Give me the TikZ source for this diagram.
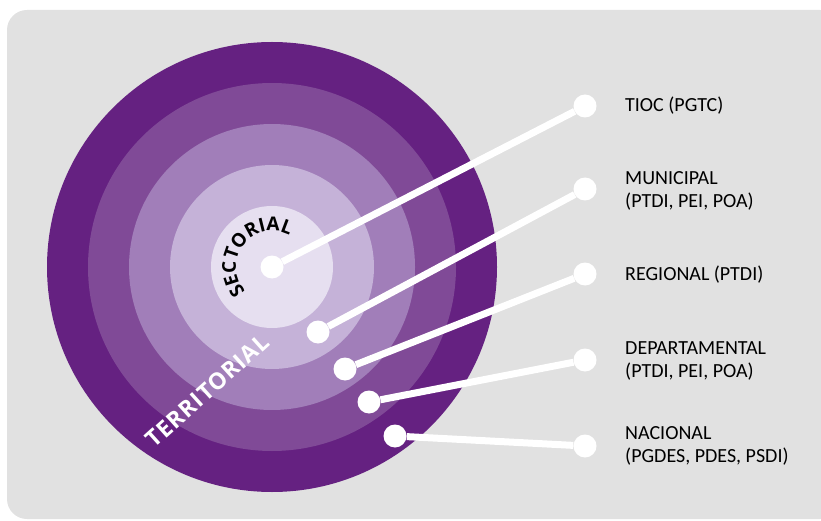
\documentclass[tikz,border=0pt]{standalone}
\usepackage{fontspec}
\setmainfont{Carlito}
\newfontfamily\ringfont{Open Sans}
\usetikzlibrary{decorations.text}

\definecolor{bggrey}{RGB}{225,225,225}
\definecolor{ringA}{RGB}{101,33,129}
\definecolor{ringB}{RGB}{128,74,151}
\definecolor{ringC}{RGB}{161,126,185}
\definecolor{ringD}{RGB}{197,178,216}
\definecolor{ringE}{RGB}{230,223,240}

\begin{document}
\begin{tikzpicture}[x=1pt, y=1pt]
		\tikzstyle{dot}=[circle, fill=white, minimum size=23pt, inner sep=0pt]
		\tikzstyle{link}=[line width=7pt, white]
		\tikzstyle{level}=[anchor=west, align=left, inner sep=0pt, font=\fontsize{20}{23}\selectfont]
		
		\useasboundingbox (0,0) rectangle (821,520);
		\clip (0,0) rectangle (821,520);
		
		% Fondo
		\fill[bggrey, rounded corners=20pt] (7,1) rectangle (840,510);
		
		% Anillos, de afuera hacia adentro
		\fill[ringA] (272,253) circle (225pt);
		\fill[ringB] (272,253) circle (184pt);
		\fill[ringC] (272,253) circle (143pt);
		\fill[ringD] (272,253) circle (102pt);
		\fill[ringE] (272,253) circle (61pt);
		
		% Textos de los anillos
		\path[decorate, decoration={text along path, text align=center,
			text={|\ringfont\bfseries\fontsize{19}{19}\selectfont|SECTORIAL}}]
			(272,253) ++(242:36pt) arc (242:42:36pt);
		\node[rotate=42, text=white, inner sep=0pt,
			font=\ringfont\bfseries\fontsize{23}{23}\selectfont\addfontfeature{LetterSpace=4}]
			(terr) at (207.5,129.5) {TERRITORIAL};
		
		% Puntos interiores
		\node[dot] (a1) at (272,253) {};
		\node[dot] (a2) at (318,188) {};
		\node[dot] (a3) at (345,151) {};
		\node[dot] (a4) at (369,118) {};
		\node[dot] (a5) at (395,84) {};
		
		% Puntos exteriores
		\node[dot] (b1) at (585,414) {};
		\node[dot] (b2) at (585,331) {};
		\node[dot] (b3) at (585,246) {};
		\node[dot] (b4) at (585,160) {};
		\node[dot] (b5) at (585,74) {};
		
		% Conexiones
		\draw[link] (a1) -- (b1);
		\draw[link] (a2) -- (b2);
		\draw[link] (a3) -- (b3);
		\draw[link] (a4) -- (b4);
		\draw[link] (a5) -- (b5);
		
		% Niveles
		\node[level] (l1) at (625,414) {TIOC (PGTC)};
		\node[level] (l2) at (625,329) {MUNICIPAL\\(PTDI, PEI, POA)};
		\node[level] (l3) at (625,245) {REGIONAL (PTDI)};
		\node[level] (l4) at (625,159) {DEPARTAMENTAL\\(PTDI, PEI, POA)};
		\node[level] (l5) at (625,74) {NACIONAL\\(PGDES, PDES, PSDI)};
		
	\end{tikzpicture}
\end{document}
